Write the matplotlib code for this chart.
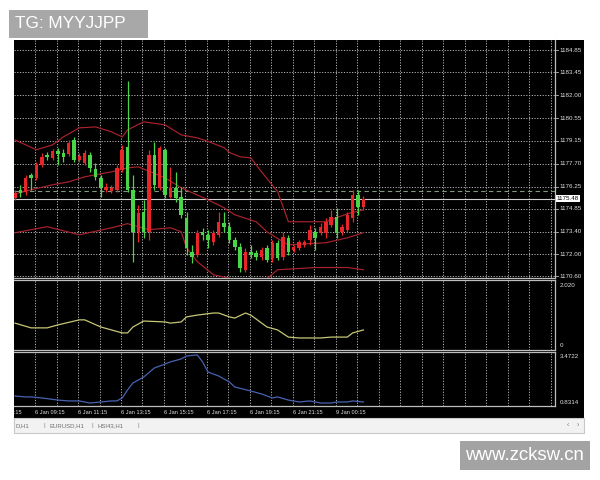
import matplotlib.pyplot as plt
from matplotlib.patches import Rectangle

# candle data (bar index = position)
opens = [1175.55, 1176.05, 1175.93, 1176.99, 1176.80, 1177.62, 1178.25, 1178.06, 1178.50, 1178.38,
         1178.31, 1179.19, 1177.94, 1177.75, 1178.25, 1177.37, 1176.80, 1176.05, 1176.00, 1176.05,
         1177.31, 1178.75, 1176.05, 1173.41, 1174.67, 1173.41, 1178.25, 1176.18, 1178.57, 1175.61,
         1176.18, 1175.61, 1174.29, 1172.15, 1171.97, 1173.41, 1173.22, 1172.78, 1173.22, 1173.98,
         1173.73, 1172.91, 1172.47, 1171.02, 1172.15, 1172.09, 1171.84, 1172.41, 1171.78, 1172.72,
         1171.84, 1173.03, 1172.28, 1172.41, 1172.59, 1172.91, 1173.41, 1173.35, 1173.35, 1173.85,
         1174.35, 1173.41, 1173.54, 1174.29, 1175.74, 1174.98]
highs = [1176.05, 1176.37, 1176.99, 1177.12, 1177.81, 1178.38, 1178.44, 1178.63, 1178.69, 1178.63,
         1179.19, 1179.38, 1178.38, 1178.57, 1178.44, 1177.75, 1176.99, 1176.49, 1176.37, 1177.62,
         1178.88, 1182.90, 1176.99, 1175.11, 1175.42, 1178.57, 1179.07, 1178.81, 1178.69, 1177.50,
         1177.18, 1176.24, 1174.67, 1172.59, 1173.54, 1173.66, 1173.54, 1173.54, 1174.67, 1174.67,
         1174.04, 1173.10, 1172.72, 1172.41, 1172.59, 1172.28, 1172.47, 1172.59, 1172.91, 1172.91,
         1173.41, 1173.22, 1172.59, 1172.91, 1172.91, 1173.85, 1173.66, 1173.98, 1174.29, 1174.79,
         1174.92, 1173.92, 1174.67, 1176.05, 1176.05, 1175.68]
lows = [1175.42, 1175.61, 1175.74, 1176.05, 1176.68, 1177.50, 1177.94, 1177.94, 1177.62, 1177.81,
        1178.19, 1177.81, 1177.81, 1177.62, 1177.18, 1176.68, 1175.61, 1175.93, 1175.86, 1175.93,
        1177.18, 1175.93, 1171.53, 1172.78, 1173.03, 1172.91, 1176.05, 1176.05, 1175.55, 1175.55,
        1175.30, 1174.29, 1171.97, 1171.46, 1171.84, 1172.91, 1172.41, 1172.59, 1173.10, 1173.41,
        1172.72, 1172.28, 1170.90, 1170.90, 1171.78, 1171.65, 1171.65, 1171.53, 1171.53, 1171.65,
        1171.65, 1171.97, 1172.15, 1172.28, 1172.47, 1172.59, 1172.28, 1173.22, 1173.03, 1173.73,
        1173.03, 1173.22, 1173.41, 1174.04, 1174.48, 1174.79]
closes = [1175.86, 1175.86, 1176.80, 1176.80, 1177.62, 1178.13, 1178.13, 1178.50, 1178.31, 1178.13,
          1179.00, 1177.94, 1178.19, 1178.38, 1177.43, 1176.87, 1176.18, 1176.24, 1176.18, 1177.43,
          1178.57, 1176.05, 1173.41, 1174.61, 1173.41, 1178.25, 1176.37, 1178.69, 1175.74, 1176.18,
          1175.55, 1174.48, 1172.41, 1171.84, 1173.35, 1173.22, 1172.91, 1173.35, 1174.04, 1173.73,
          1172.91, 1172.47, 1171.16, 1172.15, 1171.97, 1171.84, 1172.28, 1171.65, 1172.72, 1171.78,
          1173.10, 1172.15, 1172.47, 1172.78, 1172.78, 1173.54, 1173.03, 1173.73, 1174.04, 1174.35,
          1173.35, 1173.73, 1174.48, 1175.74, 1174.98, 1175.48]

# bollinger bands (bar, price)
upper_bar = [0, 2, 4, 7, 9, 12, 15, 18, 20, 21, 24, 28, 31, 34, 36, 39, 40, 42, 44, 46, 49, 51, 58, 60,
             62, 65]
upper_val = [1179.19, 1178.88, 1178.57, 1178.88, 1179.38, 1179.95, 1180.01, 1179.70, 1179.38, 1179.82,
             1180.33, 1180.14, 1179.51, 1179.32, 1179.10, 1178.70, 1178.40, 1178.13, 1178.06, 1177.18,
             1175.93, 1174.04, 1174.04, 1174.29, 1174.54, 1174.79]
mid_bar = [0, 3, 7, 10, 13, 18, 21, 23, 28, 31, 36, 39, 41, 45, 47, 50, 51, 58, 62, 65]
mid_val = [1175.80, 1176.05, 1176.37, 1176.55, 1176.87, 1177.18, 1177.43, 1177.50, 1176.80, 1176.18,
           1175.42, 1174.92, 1174.48, 1174.04, 1173.41, 1172.78, 1172.59, 1172.72, 1173.03, 1173.35]
lower_bar = [0, 6, 12, 18, 21, 25, 29, 31, 32, 34, 37, 41, 44, 47, 49, 56, 62, 65]
lower_val = [1173.35, 1173.73, 1173.22, 1173.66, 1173.92, 1173.54, 1173.66, 1173.41, 1172.41, 1171.53,
             1170.71, 1170.40, 1170.08, 1170.46, 1171.02, 1171.16, 1171.16, 1171.02]

# indicator window 1 (yellow) and window 2 (blue)
ind1_bar = [0, 3, 6, 8, 12, 13, 16, 18, 20, 21, 22, 24, 28, 29, 31, 32, 34, 37, 38, 40, 41, 43, 44,
            47, 49, 51, 53, 56, 57, 59, 62, 63, 65]
ind1_val = [0.77, 0.61, 0.61, 0.71, 0.88, 0.88, 0.64, 0.54, 0.44, 0.44, 0.64, 0.84, 0.81, 0.77, 0.81,
            0.98, 1.04, 1.11, 1.11, 0.98, 0.94, 1.11, 1.04, 0.64, 0.54, 0.30, 0.27, 0.27, 0.27, 0.30,
            0.30, 0.44, 0.54]
ind2_bar = [0, 2, 3, 5, 8, 10, 12, 14, 16, 18, 19, 20, 21, 22, 24, 26, 28, 29, 31, 32, 34, 35, 36, 38,
            40, 41, 44, 46, 48, 49, 51, 53, 55, 57, 59, 60, 62, 63, 65]
ind2_val = [1.23, 1.18, 1.18, 1.12, 1.00, 0.95, 0.95, 0.83, 0.89, 0.95, 0.95, 1.12, 1.58, 1.98, 2.32,
            2.84, 3.07, 3.19, 3.36, 3.53, 3.59, 3.19, 2.61, 2.38, 2.04, 1.75, 1.52, 1.35, 1.12, 1.18,
            1.00, 0.89, 0.95, 0.83, 0.83, 0.89, 0.89, 0.95, 0.89]

price_ticks = [1184.85, 1183.45, 1182.00, 1180.55, 1179.15, 1177.70, 1176.25, 1174.85, 1173.40,
               1172.00, 1170.60]
bid = 1175.48
hline = 1176.00
time_labels = ["6 Jan 07:15", "6 Jan 09:15", "6 Jan 11:15", "6 Jan 13:15", "6 Jan 15:15",
               "6 Jan 17:15", "6 Jan 19:15", "6 Jan 21:15", "9 Jan 00:15"]
tabs = ["D,H1", "EURUSD,H1", "HSI43,H1"]

W, H = 600, 480


def rect(x0, y0, x1, y1):
    return [x0 / W, 1 - y1 / H, (x1 - x0) / W, (y1 - y0) / H]


plt.rcParams['font.family'] = ['Liberation Sans', 'DejaVu Sans']
fig = plt.figure(figsize=(6, 4.8), dpi=100)
fig.patch.set_facecolor('white')

# black terminal background and tab bar
fig.add_artist(Rectangle((14 / W, 1 - 418 / H), 570 / W, 378 / H, transform=fig.transFigure,
                         facecolor='black', edgecolor='none', zorder=0))
fig.add_artist(Rectangle((14 / W, 1 - 433 / H), 570 / W, 15 / H, transform=fig.transFigure,
                         facecolor='#f2f2f2', edgecolor='#c8c8c8', lw=0.8, zorder=0))

XMIN, XMAX = -0.19, 100.75
grid_x = [3.73 + 4.011 * k for k in range(25)]
gridc = '#b4b4b4'
dots = (0, (1.2, 1.6))
axc = '#bdbdbd'
txtc = '#e0e0e0'

ax1 = fig.add_axes(rect(14, 40, 555, 278))
ax2 = fig.add_axes(rect(14, 280, 555, 350))
ax3 = fig.add_axes(rect(14, 352, 555, 406))
axt = fig.add_axes(rect(14, 406, 555, 418))
axt.axis('off')
axt.set_xlim(XMIN, XMAX)

for ax in (ax1, ax2, ax3):
    ax.set_facecolor('black')
    ax.set_xlim(XMIN, XMAX)
    ax.set_xticks([])
    ax.set_yticks([])
    for s in ax.spines.values():
        s.set_color(axc)
        s.set_linewidth(0.9)
    ax.spines['left'].set_visible(False)
    for gx in grid_x:
        ax.axvline(gx, color=gridc, lw=0.7, ls=dots, zorder=1)
ax1.spines['top'].set_visible(False)

# main chart
ax1.set_ylim(1170.50, 1185.48)
for p in price_ticks:
    ax1.axhline(p, color=gridc, lw=0.7, ls=dots, zorder=1)
    ax1.text(1.008, p, f"{p:.2f}", transform=ax1.get_yaxis_transform(), color=txtc,
             fontsize=4.5, va='center', ha='left', clip_on=False)
    ax1.plot([1.0, 1.005], [p, p], transform=ax1.get_yaxis_transform(), color=axc, lw=0.6,
             clip_on=False)
ax1.axhline(hline, color='#7f9a80', lw=0.8, ls=(0, (4, 3)), zorder=2)
ax1.axhline(bid, color='#cfcfcf', lw=0.8, zorder=2)
ax1.text(1.003, bid, f"{bid:.2f}", transform=ax1.get_yaxis_transform(), color='black',
         fontsize=4.5, va='center', ha='left', clip_on=False,
         bbox=dict(boxstyle='square,pad=0.15', facecolor='white', edgecolor='none'))

ax1.plot(upper_bar, upper_val, color='#ab222e', lw=0.85, zorder=3)
ax1.plot(mid_bar, mid_val, color='#ab222e', lw=0.85, zorder=3)
ax1.plot(lower_bar, lower_val, color='#ab222e', lw=0.85, zorder=3)

for i in range(len(opens)):
    col = '#e8262a' if closes[i] > opens[i] else '#48d648'
    ax1.vlines(i, lows[i], highs[i], color=col, lw=0.9, zorder=4)
    lo = min(opens[i], closes[i])
    h = max(abs(closes[i] - opens[i]), 0.05)
    ax1.bar(i, h, bottom=lo, width=0.65, color=col, zorder=5)

# indicator windows
ax2.set_ylim(-0.135, 2.222)
ax2.plot(ind1_bar, ind1_val, color='#c6c676', lw=0.9, zorder=3)
ax2.text(1.008, 2.02, "2.020", transform=ax2.get_yaxis_transform(), color=txtc,
         fontsize=4.5, va='center', ha='left')
ax2.text(1.008, 0.0, "0", transform=ax2.get_yaxis_transform(), color=txtc,
         fontsize=4.5, va='center', ha='left')

ax3.set_ylim(0.659, 3.759)
ax3.plot(ind2_bar, ind2_val, color='#4862b2', lw=0.9, zorder=3)
ax3.text(1.008, 3.4722, "3.4722", transform=ax3.get_yaxis_transform(), color=txtc,
         fontsize=4.5, va='center', ha='left')
ax3.text(1.008, 0.8314, "0.8314", transform=ax3.get_yaxis_transform(), color=txtc,
         fontsize=4.5, va='center', ha='left')

# time labels, clipped to the chart strip like the terminal does
for j, lab in enumerate(time_labels):
    t = axt.text(grid_x[0] + 8.02 * (j - 1), 0.5, lab, color=txtc, fontsize=4.1,
                 va='center', ha='left', clip_on=True)
    t.set_clip_box(axt.bbox)

# tab bar
tab_x = [15, 50, 98]
for tx, lab in zip(tab_x, tabs):
    fig.text(tx / W, 1 - 426 / H, lab, fontsize=4.3, color='#6e6e6e', va='center')
for sx in [43, 92, 137]:
    fig.text(sx / W, 1 - 426 / H, "|", fontsize=4.5, color='#8a8a8a', va='center')
fig.text(567 / W, 1 - 425 / H, "‹", fontsize=5, color='#777777', va='center')
fig.text(577 / W, 1 - 425 / H, "›", fontsize=5, color='#777777', va='center')

# overlay labels
fig.add_artist(Rectangle((9 / W, 1 - 38 / H), 139 / W, 28 / H, transform=fig.transFigure,
                         facecolor='#a8a8a8', edgecolor='none', zorder=5))
fig.text(15 / W, 1 - 24 / H, "TG: MYYJJPP", fontsize=12.4, color='white', va='center', zorder=6)
fig.add_artist(Rectangle((460 / W, 1 - 470 / H), 130 / W, 29 / H, transform=fig.transFigure,
                         facecolor='#a3a3a3', edgecolor='none', zorder=5))
fig.text(465 / W, 1 - 455.5 / H, "www.zcksw.cn", fontsize=13.4, color='white', va='center',
         zorder=6)

fig.savefig('out.png', dpi=100, facecolor='white')
